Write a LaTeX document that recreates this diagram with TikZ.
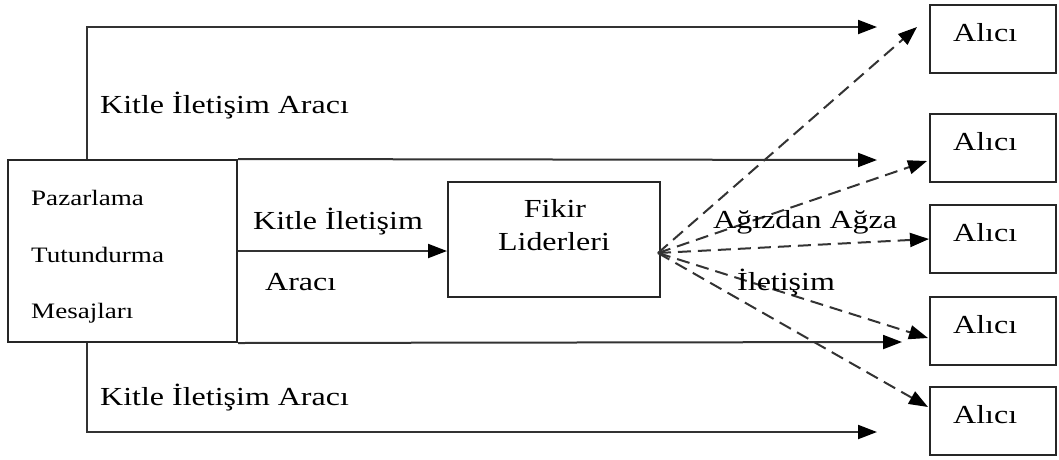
\documentclass[tikz,border=0pt]{standalone}
\usepackage{fontspec}
\setmainfont{Liberation Serif}[FakeStretch=1.23]
\usetikzlibrary{arrows.meta,calc}
\begin{document}
\begin{tikzpicture}[x=1pt,y=-1pt,
  box/.style={draw=black!85, line width=2pt, inner sep=0pt},
  link/.style={draw=black!80, line width=2pt, -{Triangle[length=19pt,width=14pt,color=black]}},
  wom/.style={link, dash pattern=on 13pt off 7pt},
  lbl/.style={font=\fontsize{26}{30}\selectfont, text=black, inner sep=0pt, anchor=base west},
  small/.style={font=\fontsize{22}{26}\selectfont, text=black, inner sep=0pt, anchor=base west}]
\useasboundingbox (0,0) rectangle (1059,459);

% source box with the marketing messages
\node[box, minimum width=229pt, minimum height=182pt] (src) at (122.5,251) {};
\node[small] (p1) at (31,205) {Pazarlama};
\node[small] (p2) at (31,262) {Tutundurma};
\node[small] (p3) at (31,318) {Mesajları};

% opinion leaders
\node[box, minimum width=212pt, minimum height=115pt] (fl) at (554,239.5) {};
\node[lbl, anchor=base] (fl1) at (555,217) {Fikir};
\node[lbl, anchor=base] (fl2) at (554,250) {Liderleri};

% receivers
\foreach \i/\t in {1/5,2/114,3/205,4/297,5/387}{
  \node[box, minimum width=126pt, minimum height=68pt] (a\i) at (993,\t+34) {};
  \node[lbl] (al\i) at (953,\t+36.5) {Alıcı};
}

% arrow end points
\coordinate (e1) at (877,27);
\coordinate (e2) at (877,160);
\coordinate (e4) at (902,342);
\coordinate (e5) at (877,432);
\coordinate (o) at (658,253);

% mass media channels
\draw[link] ($(src.north west)+(80,0)$) |- (e1);
\draw[link] (src.north east) -- (e2);
\draw[link] (src.east) -- (src.east -| fl.west);
\draw[link] (src.south east) -- (e4);
\draw[link] ($(src.south west)+(80,0)$) |- (e5);

\node[lbl] (m1) at (100,113) {Kitle İletişim Aracı};
\node[lbl] (m2) at (253,229) {Kitle İletişim};
\node[lbl] (m3) at (265,290) {Aracı};
\node[lbl] (m4) at (100,405) {Kitle İletişim Aracı};

% word of mouth
\draw[wom] (o) -- (917,27);
\draw[wom] (o) -- (927,161);
\draw[wom] (o) -- (a3.west);
\draw[wom] (o) -- (928,338);
\draw[wom] (o) -- (928,407);

\node[lbl] (w1) at (713,228) {Ağızdan Ağza};
\node[lbl] (w2) at (737,290) {İletişim};
\end{tikzpicture}
\end{document}
